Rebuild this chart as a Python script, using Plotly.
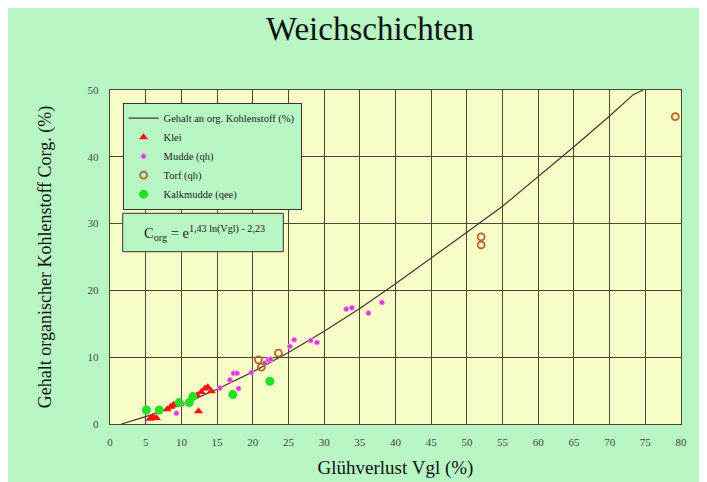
import plotly.graph_objects as go

# --- data ---
curve_v = [1.6, 5, 10, 15, 20, 25, 30, 35, 40, 45, 50, 55, 60, 65, 70, 73.3, 74.7]
curve_c = [0.0, 1.1, 2.9, 5.2, 7.8, 10.7, 13.9, 17.3, 21.0, 24.8, 28.7, 32.6, 37.0, 41.5, 46.1, 49.3, 50.0]

klei_v = [5.6, 6.0, 6.5, 8.0, 8.5, 8.9, 9.3, 12.4, 12.2, 12.8, 13.3, 13.7, 14.2]
klei_c = [0.8, 1.1, 0.9, 2.2, 2.6, 2.9, 3.0, 1.9, 4.3, 4.8, 5.3, 5.5, 4.9]

mudde_v = [9.3, 10.1, 15.4, 16.8, 17.3, 17.8, 18.0, 19.8, 21.7, 22.2, 22.5, 25.2, 25.8, 28.1, 29.0, 33.1, 33.9, 36.2, 38.1]
mudde_c = [1.6, 3.0, 5.4, 6.6, 7.6, 7.6, 5.3, 7.7, 9.1, 9.6, 9.7, 11.6, 12.6, 12.5, 12.2, 17.2, 17.4, 16.6, 18.2]

torf_v = [20.8, 21.2, 23.6, 52.0, 52.0, 79.2]
torf_c = [9.6, 8.5, 10.6, 28.0, 26.8, 46.0]

kalk_v = [5.1, 6.9, 9.7, 11.1, 11.6, 17.2, 22.4]
kalk_c = [2.1, 2.1, 3.2, 3.2, 4.1, 4.4, 6.4]

x_ticks = list(range(0, 81, 5))
y_ticks = list(range(0, 51, 10))

SERIF = "Liberation Serif, Times New Roman, serif"
GREEN_BG = "#b8f7c4"
PLOT_BG = "#f8fcc6"
GRID = "#4a4a3a"

fig = go.Figure()
fig.add_trace(go.Scatter(x=curve_v, y=curve_c, mode="lines", name="Gehalt an org. Kohlenstoff (%)",
                         line=dict(color="#3a3a3a", width=1.2)))
fig.add_trace(go.Scatter(x=klei_v, y=klei_c, mode="markers", name="Klei",
                         marker=dict(symbol="triangle-up", color="#ff1010", size=8)))
fig.add_trace(go.Scatter(x=mudde_v, y=mudde_c, mode="markers", name="Mudde (qh)",
                         marker=dict(symbol="circle", color="#e030e0", size=5,
                                     line=dict(color="#f090f0", width=1))))
fig.add_trace(go.Scatter(x=torf_v, y=torf_c, mode="markers", name="Torf (qh)",
                         marker=dict(symbol="circle-open", color="#b8672a", size=7,
                                     line=dict(width=1.8))))
fig.add_trace(go.Scatter(x=kalk_v, y=kalk_c, mode="markers", name="Kalkmudde (qee)",
                         marker=dict(symbol="circle", color="#22e022", size=9)))

# plot area (figure coords): x 102..673, y 82..416
fig.update_layout(
    width=707, height=482,
    margin=dict(l=102, r=34, t=82, b=66),
    paper_bgcolor=GREEN_BG,
    plot_bgcolor=PLOT_BG,
    title=dict(text="Weichschichten", x=0.512, xanchor="center", y=0.958, yanchor="middle",
               yref="container", xref="container", font=dict(family=SERIF, size=33, color="#111")),
    showlegend=True,
    legend=dict(x=0.022, y=0.962, xanchor="left", yanchor="top",
                bgcolor=GREEN_BG, bordercolor="#333", borderwidth=1,
                font=dict(family=SERIF, size=10.5, color="#222"),
                tracegroupgap=0, itemwidth=30),
    shapes=[
        dict(type="rect", xref="paper", yref="paper", x0=12.7/571, x1=173.3/571,
             y0=172.3/334, y1=210.7/334, fillcolor=GREEN_BG,
             line=dict(color="#333", width=1), layer="above"),
    ],
    annotations=[
        dict(xref="paper", yref="paper", x=94/571, y=191.5/334,
             text="C<sub>org</sub> = e<sup>1,43 ln(Vgl) - 2,23</sup>", showarrow=False,
             font=dict(family=SERIF, size=14.5, color="#222"), xanchor="center", yanchor="middle"),
    ],
)

fig.update_xaxes(range=[0, 80], tickvals=x_ticks, showgrid=True, gridcolor=GRID, gridwidth=1.4,
                 zeroline=False, showline=True, linecolor=GRID, linewidth=1.4, mirror=True,
                 ticks="", tickfont=dict(family=SERIF, size=11, color="#444"), ticklabelstandoff=8,
                 title=dict(text="Glühverlust Vgl (%)", font=dict(family=SERIF, size=19, color="#111"),
                            standoff=13))
fig.update_yaxes(range=[0, 50], tickvals=y_ticks, showgrid=True, gridcolor=GRID, gridwidth=1.4,
                 zeroline=False, showline=True, linecolor=GRID, linewidth=1.4, mirror=True,
                 ticks="", tickfont=dict(family=SERIF, size=11, color="#444"), ticklabelstandoff=8,
                 title=dict(text="Gehalt organischer Kohlenstoff Corg. (%)",
                            font=dict(family=SERIF, size=18, color="#111"), standoff=31))

fig.write_html("out.html")
